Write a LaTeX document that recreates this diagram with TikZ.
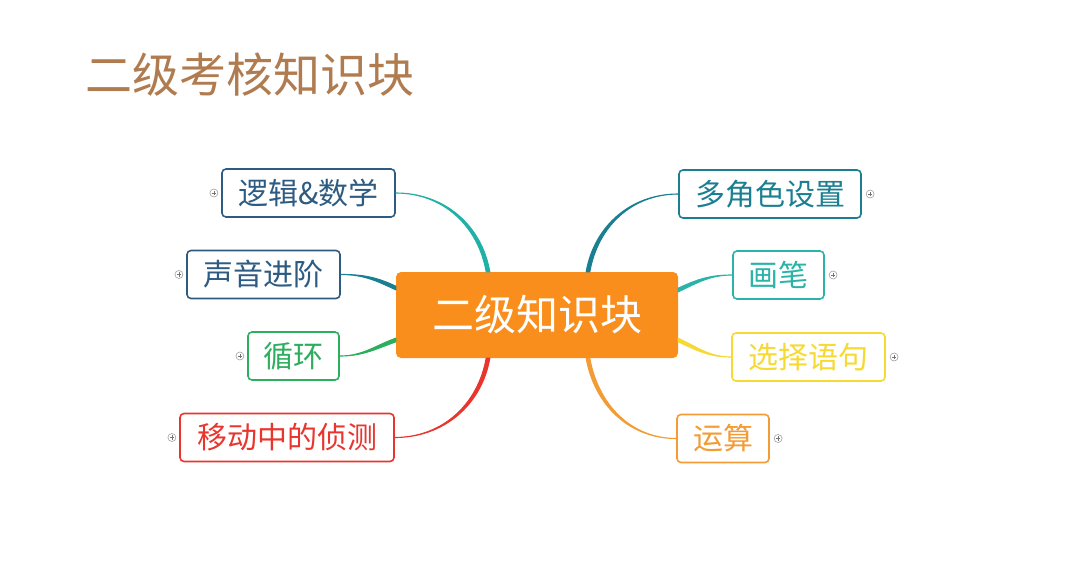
\documentclass[tikz,border=0pt]{standalone}
\usepackage{fontspec}
\setmainfont{Noto Sans CJK SC}
\usetikzlibrary{positioning}
\definecolor{titlebrown}{HTML}{B07C4F}
\definecolor{hubfill}{HTML}{F98E1D}
\definecolor{slateblue}{HTML}{2E5B82}
\definecolor{tealline}{HTML}{1FB0A6}
\definecolor{darkteal}{HTML}{1B7F92}
\definecolor{loopgreen}{HTML}{2DAE5E}
\definecolor{alertred}{HTML}{E8362E}
\definecolor{penteal}{HTML}{2BB3A8}
\definecolor{selyellow}{HTML}{F6D932}
\definecolor{calcorange}{HTML}{F39C35}

\begin{document}
\begin{tikzpicture}[
  x=1pt, y=-1pt,
  node distance=3pt,
  topic/.style={draw, rounded corners=4pt, line width=1.6pt, fill=white,
                minimum height=48pt, inner xsep=0pt,
                font=\fontsize{30}{32}\selectfont},
  hubbox/.style={fill=hubfill, rounded corners=5pt, minimum width=282pt,
                 minimum height=86pt, text=white,
                 font=\fontsize{42}{46}\selectfont},
  conn/.style={line width=1.1pt, line join=round},
  expander/.style={circle, draw=gray!75, line width=0.6pt, minimum size=8pt,
                   inner sep=0pt, fill=white,
                   path picture={
                     \draw[gray!90!black, line width=0.6pt]
                       ([xshift=-2.2pt]path picture bounding box.center) --
                       ([xshift=2.2pt]path picture bounding box.center);
                     \draw[gray!90!black, line width=0.6pt]
                       ([yshift=-2.2pt]path picture bounding box.center) --
                       ([yshift=2.2pt]path picture bounding box.center);}},
]
  \useasboundingbox (0,0) rectangle (1080,584);

  % title
  \node[anchor=west, text=titlebrown, font=\fontsize{47}{52}\selectfont] (title)
    at (82,75) {二级考核知识块};

  % central topic
  \node[hubbox] (hub) at (537,315) {二级知识块};
  \coordinate (hubNL) at ([xshift=-49pt]hub.north);
  \coordinate (hubNR) at ([xshift=51pt]hub.north);
  \coordinate (hubSL) at ([xshift=-49pt]hub.south);
  \coordinate (hubSR) at ([xshift=51pt]hub.south);
  \coordinate (hubWU) at ([yshift=27pt]hub.west);
  \coordinate (hubWD) at ([yshift=-25pt]hub.west);
  \coordinate (hubEU) at ([yshift=25pt]hub.east);
  \coordinate (hubED) at ([yshift=-25pt]hub.east);

  % left branches
  \node[topic, draw=slateblue, text=slateblue, minimum width=173pt] (logic)  at (308.5,193) {逻辑\&数学};
  \node[topic, draw=slateblue, text=slateblue, minimum width=153pt] (sound)  at (263.5,274.5) {声音进阶};
  \node[topic, draw=loopgreen, text=loopgreen, minimum width=91pt]  (loop)   at (293.5,356) {循环};
  \node[topic, draw=alertred, text=alertred, minimum width=214pt]   (detect) at (287,437.5) {移动中的侦测};

  % right branches
  \node[topic, draw=darkteal, text=darkteal, minimum width=182pt]     (roles)  at (770,194) {多角色设置};
  \node[topic, draw=penteal, text=penteal, minimum width=91pt]        (pen)    at (778.5,275) {画笔};
  \node[topic, draw=selyellow, text=selyellow, minimum width=153pt]   (select) at (808.5,357) {选择语句};
  \node[topic, draw=calcorange, text=calcorange, minimum width=92pt]  (calc)   at (723,438.5) {运算};

  % expand markers
  \node[expander, left=3pt of logic]  (logicplus) {};
  \node[expander, left=3pt of sound]  (soundplus) {};
  \node[expander, left=3pt of loop]   (loopplus) {};
  \node[expander, left=3pt of detect] (detectplus) {};
  \node[expander, right=4pt of roles]  (rolesplus) {};
  \node[expander, right=4pt of pen]    (penplus) {};
  \node[expander, right=4pt of select] (selectplus) {};
  \node[expander, right=4pt of calc]   (calcplus) {};

  % connectors (tapered towards the topic boxes)
  \filldraw[conn, tealline]   (logic.east)  to[out=0, in=100]  ([xshift=-1.8pt]hubNL) -- ([xshift=1.8pt]hubNL) to[out=100, in=0] (logic.east) -- cycle;
  \filldraw[conn, darkteal]   (sound.east)  to[out=0, in=155]  ([yshift=1.8pt]hubWU) -- ([yshift=-1.8pt]hubWU) to[out=155, in=0] (sound.east) -- cycle;
  \filldraw[conn, loopgreen]  (loop.east)   to[out=0, in=200]  ([yshift=1.8pt]hubWD) -- ([yshift=-1.8pt]hubWD) to[out=200, in=0] (loop.east) -- cycle;
  \filldraw[conn, alertred]   (detect.east) to[out=0, in=-100] ([xshift=-1.8pt]hubSL) -- ([xshift=1.8pt]hubSL) to[out=-100, in=0] (detect.east) -- cycle;
  \filldraw[conn, darkteal]   (roles.west)  to[out=180, in=80]  ([xshift=-1.8pt]hubNR) -- ([xshift=1.8pt]hubNR) to[out=80, in=180] (roles.west) -- cycle;
  \filldraw[conn, penteal]    (pen.west)    to[out=180, in=25]  ([yshift=1.8pt]hubEU) -- ([yshift=-1.8pt]hubEU) to[out=25, in=180] (pen.west) -- cycle;
  \filldraw[conn, selyellow]  (select.west) to[out=180, in=-25] ([yshift=1.8pt]hubED) -- ([yshift=-1.8pt]hubED) to[out=-25, in=180] (select.west) -- cycle;
  \filldraw[conn, calcorange] (calc.west)   to[out=180, in=-80] ([xshift=-1.8pt]hubSR) -- ([xshift=1.8pt]hubSR) to[out=-80, in=180] (calc.west) -- cycle;
\end{tikzpicture}
\end{document}
